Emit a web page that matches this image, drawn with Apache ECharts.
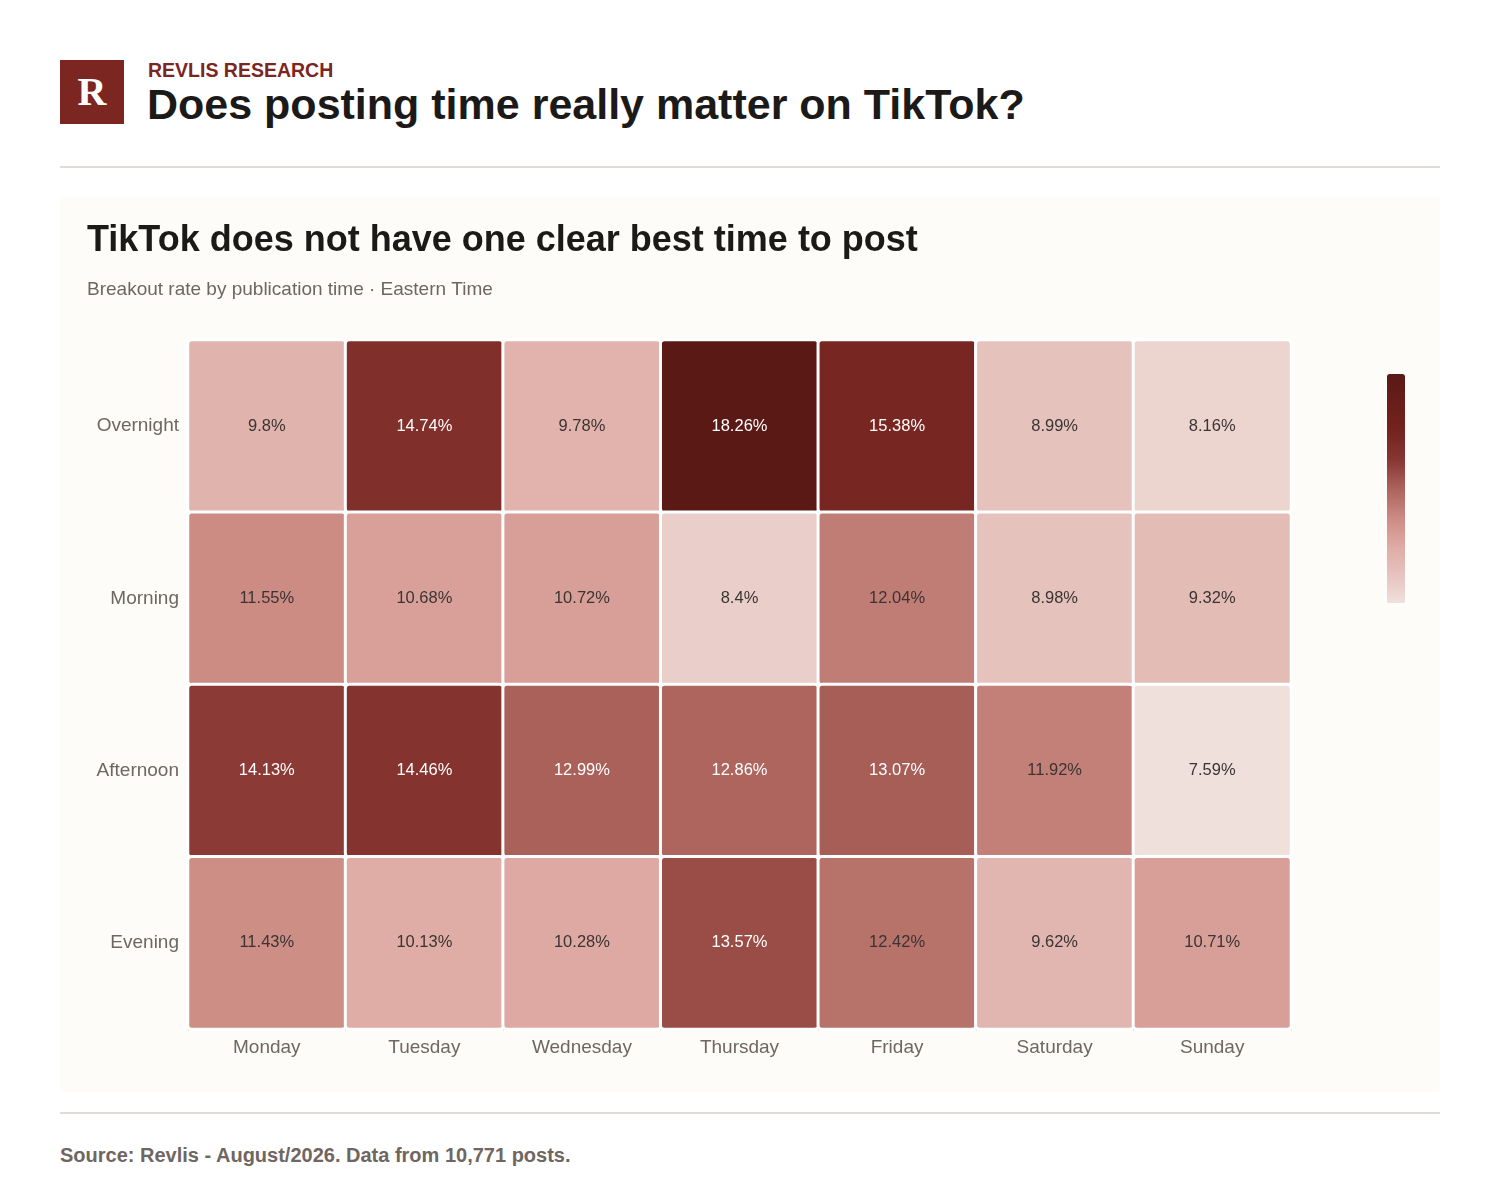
<!DOCTYPE html>
<html>
<head>
<meta charset="utf-8">
<script src="https://cdn.jsdelivr.net/npm/echarts@6/dist/echarts.min.js"></script>
<style>
  html, body { margin: 0; padding: 0; background: #ffffff; }
  body { width: 1500px; height: 1200px; position: relative; font-family: "Liberation Sans", Arial, sans-serif; }
  .logo { position: absolute; left: 60px; top: 60px; width: 64px; height: 64px; background: #7b2621;
    color: #fff; font-family: "Liberation Serif", "DejaVu Serif", serif; font-weight: bold; font-size: 40px;
    line-height: 64px; text-align: center; }
  .kicker { position: absolute; left: 148px; top: 59px; font-size: 19.5px; font-weight: bold; color: #7b2621; }
  .headline { position: absolute; left: 147px; top: 80px; font-size: 43px; font-weight: bold; color: #1c1a19; }
  .rule { position: absolute; left: 60px; width: 1380px; height: 2px; background: #e0dcd5; }
  .panel { position: absolute; left: 60px; top: 197px; width: 1380px; height: 895px; background: #fdfcf9; border-radius: 4px; }
  #chart { width: 1380px; height: 895px; }
  .source { position: absolute; left: 60px; top: 1144px; font-size: 20px; font-weight: bold; color: #6f6661; }
</style>
</head>
<body>
<div class="logo">R</div>
<div class="kicker">REVLIS RESEARCH</div>
<div class="headline">Does posting time really matter on TikTok?</div>
<div class="rule" style="top:166px"></div>
<div class="panel"><div id="chart"></div></div>
<div class="rule" style="top:1112px"></div>
<div class="source">Source: Revlis - August/2026. Data from 10,771 posts.</div>
<script>
  const days = ['Monday', 'Tuesday', 'Wednesday', 'Thursday', 'Friday', 'Saturday', 'Sunday'];
  const slots = ['Overnight', 'Morning', 'Afternoon', 'Evening'];

  // breakout rate (%) per slot, Monday..Sunday
  const overnight = [9.8, 14.74, 9.78, 18.26, 15.38, 8.99, 8.16];
  const morning = [11.55, 10.68, 10.72, 8.4, 12.04, 8.98, 9.32];
  const afternoon = [14.13, 14.46, 12.99, 12.86, 13.07, 11.92, 7.59];
  const evening = [11.43, 10.13, 10.28, 13.57, 12.42, 9.62, 10.71];

  const rows = [overnight, morning, afternoon, evening];
  let data = [];
  let all = [];
  rows.forEach(function (vals, r) {
    vals.forEach(function (v, d) {
      all.push(v);
      data.push({
        value: [d, r, v],
        label: { color: v > 12.5 ? '#ffffff' : '#3a3432' }
      });
    });
  });

  let myChart = echarts.init(document.getElementById('chart'));
  myChart.setOption({
    animation: false,
    backgroundColor: 'transparent',
    title: {
      text: 'TikTok does not have one clear best time to post',
      subtext: 'Breakout rate by publication time · Eastern Time',
      left: 22,
      top: 21,
      itemGap: 21,
      textStyle: { fontFamily: 'Liberation Sans', fontSize: 36, fontWeight: 'bold', color: '#1c1a19' },
      subtextStyle: { fontFamily: 'Liberation Sans', fontSize: 19, color: '#6f6661' }
    },
    grid: { left: 128, right: 149, top: 143, bottom: 63 },
    xAxis: {
      type: 'category',
      data: days,
      axisLine: { show: true, lineStyle: { color: '#e4e0da' } },
      axisTick: { show: true, length: 2, lineStyle: { color: '#e4e0da' } },
      axisLabel: { fontFamily: 'Liberation Sans', fontSize: 19, color: '#6f6661', margin: 9 },
      splitArea: { show: false }
    },
    yAxis: {
      type: 'category',
      data: slots,
      inverse: true,
      axisLine: { show: true, lineStyle: { color: '#ece8e2' } },
      axisTick: { show: false },
      axisLabel: { fontFamily: 'Liberation Sans', fontSize: 19, color: '#6f6661', margin: 9 }
    },
    visualMap: {
      type: 'continuous',
      min: Math.min.apply(null, all),
      max: Math.max.apply(null, all),
      calculable: false,
      showLabel: false,
      text: ['', ''],
      right: 20,
      top: 162,
      itemWidth: 18,
      itemHeight: 229,
      inRange: {
        color: ['#f0e0dc', '#e6c3be', '#dfaaa4', '#cb8a82', '#ab635c', '#883631', '#75231e', '#681e19', '#5a1915']
      }
    },
    series: [{
      type: 'heatmap',
      data: data,
      label: {
        show: true,
        fontFamily: 'Liberation Sans',
        fontSize: 16.5,
        formatter: function (p) { return p.value[2] + '%'; }
      },
      itemStyle: { borderColor: '#ffffff', borderWidth: 3, borderRadius: 4 }
    }]
  });
</script>
</body>
</html>
